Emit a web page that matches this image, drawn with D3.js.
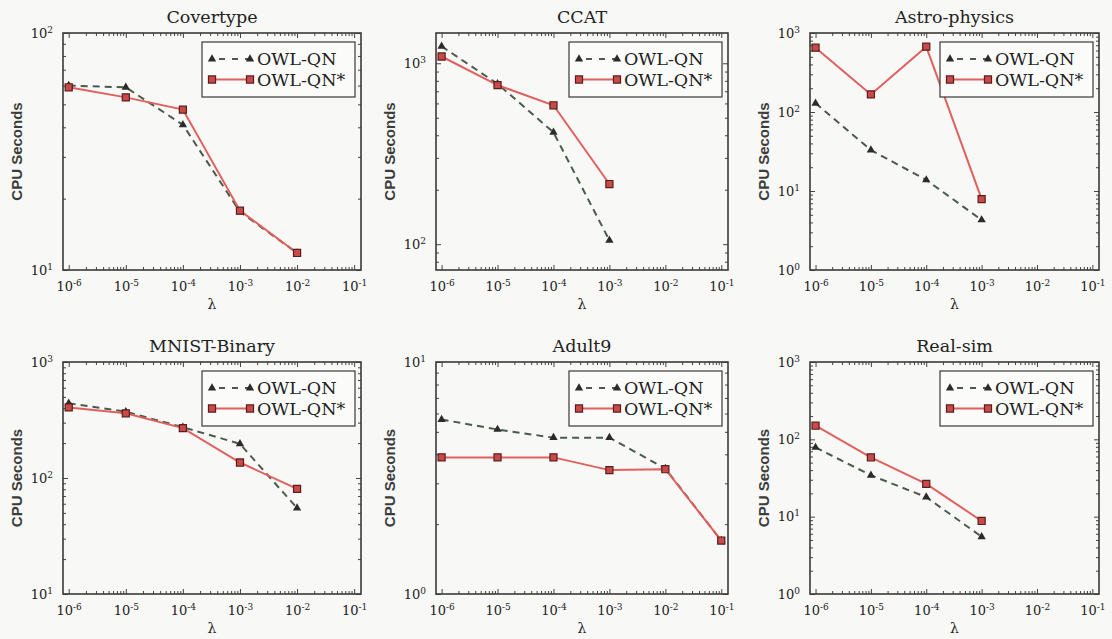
<!DOCTYPE html>
<html>
<head>
<meta charset="utf-8">
<script src="https://cdn.jsdelivr.net/npm/d3@7"></script>
<style>
  body { margin: 0; background: #f8f8f6; }
  svg { display: block; }
  .axis path { display: none; }
  .axis line { stroke: #444; stroke-width: 1; }
  .axis text { font-family: "DejaVu Serif", serif; font-size: 13px; fill: #222; }
</style>
</head>
<body>
<svg id="chart" width="1112" height="639"></svg>
<script>
// data
const titles = ["Covertype", "CCAT", "Astro-physics", "MNIST-Binary", "Adult9", "Real-sim"]
const lambdas = [1e-6, 1e-5, 1e-4, 1e-3, 1e-2, 1e-1]
const seriesNames = ["OWL-QN", "OWL-QN*"]

const covOwl = [60, 59, 41, 17.6, 11.8]
const covStar = [59, 53.5, 47.5, 17.8, 11.8]
const ccatOwl = [1240, 770, 415, 105]
const ccatStar = [1090, 757, 586, 215]
const astroOwl = [129, 33, 13.8, 4.3]
const astroStar = [652, 167, 671, 7.9]
const mnistOwl = [440, 373, 274, 197, 55]
const mnistStar = [406, 361, 269, 136, 80.6]
const adultOwl = [5.65, 5.12, 4.72, 4.72, 3.47, 1.7]
const adultStar = [3.88, 3.88, 3.88, 3.42, 3.45, 1.7]
const realOwl = [78.5, 34.3, 17.9, 5.5]
const realStar = [150, 58.3, 26.5, 8.8]

const owlData = [covOwl, ccatOwl, astroOwl, mnistOwl, adultOwl, realOwl]
const starData = [covStar, ccatStar, astroStar, mnistStar, adultStar, realStar]
const yDomains = [[10, 100], [72, 1470], [1, 1000], [10, 1000], [1, 10], [1, 1000]]
const xDomain = [Math.pow(10, -6.1), Math.pow(10, -0.88)]

// panel boxes
const colLeft = [63, 436, 810], colRight = [361, 728, 1099]
const rowTop = [33, 362], rowBottom = [270, 594]

const owlColor = "#4b5a4b", starColor = "#e0605e"

const svg = d3.select("#chart")

function supLabel(sel) {
    sel.each(function(d) {
        const t = d3.select(this)
        const e = Math.round(Math.log10(d))
        t.text(null)
        t.append("tspan").text("10")
        t.append("tspan").text(e).attr("font-size", "9px").attr("dy", "-0.55em")
    })
}

function minorTicks(domain) {
    const out = []
    const lo = Math.floor(Math.log10(domain[0])), hi = Math.ceil(Math.log10(domain[1]))
    for (let p = lo; p <= hi; p++) {
        for (let m = 2; m <= 9; m++) {
            const v = m * Math.pow(10, p)
            if (v >= domain[0] && v <= domain[1]) out.push(v)
        }
    }
    return out
}

function majorTicks(domain) {
    const out = []
    const lo = Math.ceil(Math.log10(domain[0]) - 1e-9), hi = Math.floor(Math.log10(domain[1]) + 1e-9)
    for (let p = lo; p <= hi; p++) out.push(Math.pow(10, p))
    return out
}

titles.forEach((title, i) => {
    const col = i % 3, row = Math.floor(i / 3)
    const x0 = colLeft[col], x1 = colRight[col], y0 = rowTop[row], y1 = rowBottom[row]
    const w = x1 - x0, h = y1 - y0

    const x = d3.scaleLog().domain(xDomain).range([0, w])
    const y = d3.scaleLog().domain(yDomains[i]).range([h, 0])

    const g = svg.append("g").attr("transform", "translate(" + x0 + "," + y0 + ")")

    const xMaj = lambdas, xMin = minorTicks([1e-6, 1e-1]).filter(v => v > xDomain[0] && v < xDomain[1])
    const yMaj = majorTicks(yDomains[i]), yMin = minorTicks(yDomains[i])

    // ticks on all four sides, pointing in
    g.append("g").attr("class", "axis").attr("transform", "translate(0," + h + ")")
        .call(d3.axisBottom(x).tickValues(xMaj).tickSize(-5).tickPadding(12))
        .selectAll(".tick text").call(supLabel)
    g.append("g").attr("class", "axis").attr("transform", "translate(0," + h + ")")
        .call(d3.axisBottom(x).tickValues(xMin).tickSize(-3).tickFormat(""))
    g.append("g").attr("class", "axis")
        .call(d3.axisTop(x).tickValues(xMaj).tickSize(-5).tickFormat(""))
    g.append("g").attr("class", "axis")
        .call(d3.axisTop(x).tickValues(xMin).tickSize(-3).tickFormat(""))

    g.append("g").attr("class", "axis")
        .call(d3.axisLeft(y).tickValues(yMaj).tickSize(-5).tickPadding(10))
        .selectAll(".tick text").call(supLabel)
    g.append("g").attr("class", "axis")
        .call(d3.axisLeft(y).tickValues(yMin).tickSize(-3).tickFormat(""))
    g.append("g").attr("class", "axis").attr("transform", "translate(" + w + ",0)")
        .call(d3.axisRight(y).tickValues(yMaj).tickSize(-5).tickFormat(""))
    g.append("g").attr("class", "axis").attr("transform", "translate(" + w + ",0)")
        .call(d3.axisRight(y).tickValues(yMin).tickSize(-3).tickFormat(""))

    g.append("rect").attr("width", w).attr("height", h)
        .attr("fill", "none").attr("stroke", "#3a3a3a").attr("stroke-width", 1.6)

    g.append("text").attr("x", w / 2).attr("y", -10).attr("text-anchor", "middle")
        .style("font-family", "DejaVu Serif, serif").style("font-size", "17.5px").attr("fill", "#222")
        .text(title)
    g.append("text").attr("x", w / 2).attr("y", h + 39).attr("text-anchor", "middle")
        .style("font-family", "DejaVu Serif, serif").style("font-size", "14px").attr("fill", "#222")
        .text("λ")
    g.append("text").attr("transform", "translate(-46," + (h / 2) + ") rotate(-90)")
        .attr("text-anchor", "middle").attr("dy", "0.35em")
        .style("font-family", "Liberation Sans, Arial, sans-serif").style("font-size", "15px")
        .style("font-weight", "bold").attr("fill", "#3c3c3c")
        .text("CPU Seconds")

    const line = d3.line().x((d, k) => x(lambdas[k])).y(d => y(d))

    const owl = owlData[i], star = starData[i]

    g.append("path").attr("d", line(owl)).attr("fill", "none")
        .attr("stroke", owlColor).attr("stroke-width", 2).attr("stroke-dasharray", "7,5")
    g.append("path").attr("d", line(star)).attr("fill", "none")
        .attr("stroke", starColor).attr("stroke-width", 2)

    const tri = d3.symbol().type(d3.symbolTriangle).size(30)
    const sq = d3.symbol().type(d3.symbolSquare).size(50)

    g.selectAll(".tri").data(owl).enter().append("path").attr("class", "tri")
        .attr("d", tri).attr("transform", (d, k) => "translate(" + x(lambdas[k]) + "," + y(d) + ")")
        .attr("fill", "#2b2b2b")
    g.selectAll(".sq").data(star).enter().append("path").attr("class", "sq")
        .attr("d", sq).attr("transform", (d, k) => "translate(" + x(lambdas[k]) + "," + y(d) + ")")
        .attr("fill", "#c94a48").attr("stroke", "#5a1e1e").attr("stroke-width", 1.2)

    // legend
    const lw = 153, lh = 55
    const lg = g.append("g").attr("transform", "translate(" + (w - lw - 6) + ",9)")
    lg.append("rect").attr("width", lw).attr("height", lh)
        .attr("fill", "#fbfbfa").attr("stroke", "#3a3a3a").attr("stroke-width", 1.2)
    seriesNames.forEach((name, k) => {
        const ly = 17 + k * 20.5
        lg.append("line").attr("x1", 10).attr("x2", 48).attr("y1", ly).attr("y2", ly)
            .attr("stroke", k == 0 ? owlColor : starColor).attr("stroke-width", 2)
            .attr("stroke-dasharray", k == 0 ? "6,7" : null)
            .attr("stroke-dashoffset", k == 0 ? -7 : null)
        ;[10, 48].forEach(px => {
            lg.append("path").attr("d", k == 0 ? tri : sq)
                .attr("transform", "translate(" + px + "," + ly + ")")
                .attr("fill", k == 0 ? "#2b2b2b" : "#c94a48")
                .attr("stroke", k == 0 ? null : "#5a1e1e").attr("stroke-width", 1.2)
        })
        lg.append("text").attr("x", 55).attr("y", ly).attr("dy", "0.36em")
            .style("font-family", "DejaVu Serif, serif").style("font-size", "17.5px").attr("fill", "#222")
            .text(name)
    })
})
</script>
</body>
</html>
